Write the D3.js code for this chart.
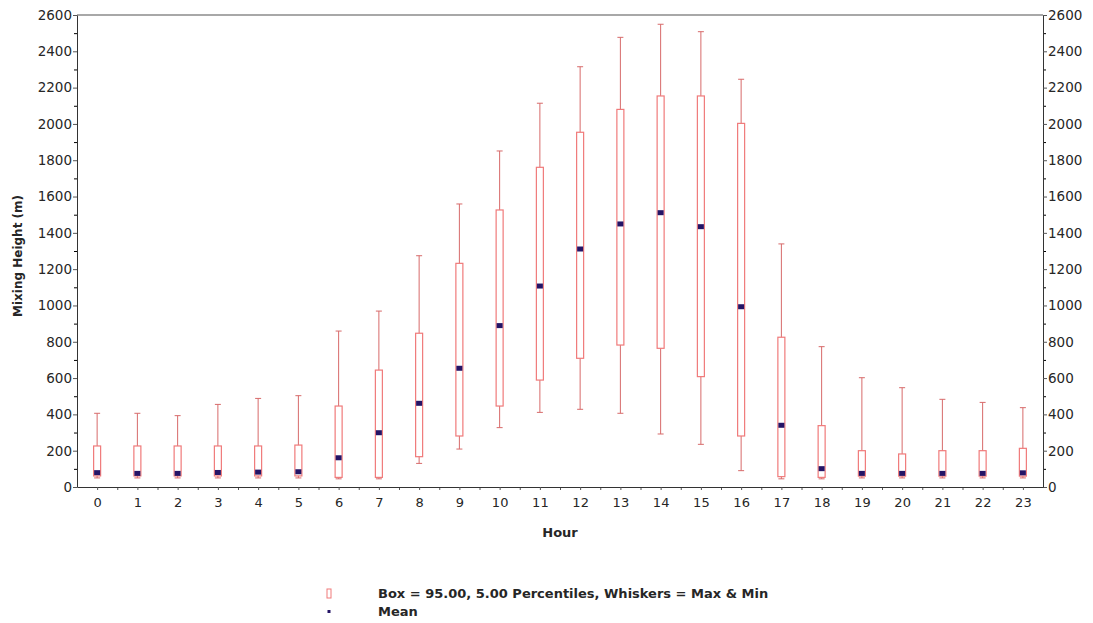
<!DOCTYPE html>
<html>
<head>
<meta charset="UTF-8">
<title>Mixing Height by Hour</title>
<style>
  body { margin: 0; background: #fff; }
  svg text { font-family: "DejaVu Sans", Verdana, sans-serif; }
</style>
</head>
<body>
<svg width="1093" height="623"></svg>
<script src="https://cdn.jsdelivr.net/npm/d3@7"></script>
<script>
// values (metres)
const hours = [0,1,2,3,4,5,6,7,8,9,10,11,12,13,14,15,16,17,18,19,20,21,22,23];
const maxV  = [406,406,393,455,488,503,859,969,1274,1559,1851,2114,2315,2477,2549,2508,2246,1339,773,602,547,483,466,437];
const p95   = [226,226,226,226,226,231,446,644,847,1232,1526,1761,1954,2080,2154,2154,2003,825,338,200,182,200,200,213];
const p5    = [61,61,61,61,61,61,53,53,167,281,446,589,709,782,764,608,281,57,53,60,60,60,60,60];
const minV  = [50,50,50,50,50,50,45,45,130,209,327,411,428,406,292,235,90,45,45,50,50,50,50,50];
const meanV = [79,75,75,80,82,84,161,299,461,654,889,1107,1311,1449,1511,1434,993,340,101,75,75,75,75,78];
const yTicks = [0,200,400,600,800,1000,1200,1400,1600,1800,2000,2200,2400,2600];

const svg = d3.select("svg");
const mLeft = 77, mRight = 1043, mTop = 15, mBottom = 487;

const x = d3.scaleLinear().domain([-0.5, 23.5]).range([mLeft, mRight]);
const y = d3.scaleLinear().domain([0, 2600]).range([mBottom, mTop]);

const boxColor = "#f07a7a", whiskColor = "#d76a6a", meanColor = "#241466";
const txt = "#262626";

// frame top
svg.append("line")
  .attr("x1", mLeft).attr("x2", mRight)
  .attr("y1", mTop).attr("y2", mTop)
  .attr("stroke", "#a8a8a8").attr("stroke-width", 2);

// y axes, minor ticks every 100
const minorY = d3.range(100, 2600, 200);
svg.append("g").attr("transform", `translate(${mLeft},0)`)
  .call(d3.axisLeft(y).tickValues(minorY).tickSize(3).tickFormat(""))
  .call(g => g.select(".domain").remove());
svg.append("g").attr("transform", `translate(${mRight},0)`)
  .call(d3.axisRight(y).tickValues(minorY).tickSize(3).tickFormat(""))
  .call(g => g.select(".domain").remove());

const yl = svg.append("g").attr("transform", `translate(${mLeft},0)`)
  .call(d3.axisLeft(y).tickValues(yTicks).tickFormat(d3.format("d")).tickSize(4).tickSizeOuter(0).tickPadding(1));
const yr = svg.append("g").attr("transform", `translate(${mRight},0)`)
  .call(d3.axisRight(y).tickValues(yTicks).tickFormat(d3.format("d")).tickSize(4).tickSizeOuter(0).tickPadding(1));
[yl, yr].forEach(g => {
  g.selectAll("text").attr("font-size", 13.5).attr("fill", txt);
  g.select(".domain").attr("stroke", "#333");
  g.selectAll(".tick line").attr("stroke", "#555");
});

// x axis: hours plus half-hour minor ticks
svg.append("g").attr("transform", `translate(0,${mBottom})`)
  .call(d3.axisBottom(x).tickValues(hours.slice(0, 23).map(h => h + 0.5)).tickSize(3).tickFormat(""))
  .call(g => g.select(".domain").remove())
  .selectAll("line").attr("stroke", "#555");
const xa = svg.append("g").attr("transform", `translate(0,${mBottom})`)
  .call(d3.axisBottom(x).tickValues(hours).tickSize(3).tickSizeOuter(0).tickPadding(8));
xa.select(".domain").attr("stroke", "#333");
xa.selectAll(".tick line").attr("stroke", "#555");
xa.selectAll("text").attr("font-size", 13).attr("fill", txt);

// boxes
const rows = hours.map((h, i) => ({h, max: maxV[i], q95: p95[i], q5: p5[i], min: minV[i], mean: meanV[i]}));
const bw = 7, cw = 6;
const b = svg.append("g").selectAll("g.box").data(rows).join("g").attr("class", "box");

b.append("line").attr("x1", d => x(d.h)).attr("x2", d => x(d.h))
  .attr("y1", d => y(d.max)).attr("y2", d => y(d.q95))
  .attr("stroke", whiskColor);
b.append("line").attr("x1", d => x(d.h)).attr("x2", d => x(d.h))
  .attr("y1", d => y(d.q5)).attr("y2", d => y(d.min))
  .attr("stroke", whiskColor);
b.append("line").attr("x1", d => x(d.h) - cw / 2).attr("x2", d => x(d.h) + cw / 2)
  .attr("y1", d => y(d.max)).attr("y2", d => y(d.max))
  .attr("stroke", whiskColor);
b.append("line").attr("x1", d => x(d.h) - cw / 2).attr("x2", d => x(d.h) + cw / 2)
  .attr("y1", d => y(d.min)).attr("y2", d => y(d.min))
  .attr("stroke", whiskColor);
b.append("rect")
  .attr("x", d => x(d.h) - bw / 2).attr("width", bw)
  .attr("y", d => y(d.q95)).attr("height", d => y(d.q5) - y(d.q95))
  .attr("fill", "none").attr("stroke", boxColor).attr("stroke-width", 1.2);
b.append("rect")
  .attr("x", d => x(d.h) - 3).attr("width", 6)
  .attr("y", d => y(d.mean) - 2.5).attr("height", 5)
  .attr("fill", meanColor);

// axis titles
svg.append("text")
  .attr("transform", "translate(22,256) rotate(-90)")
  .attr("text-anchor", "middle")
  .attr("font-size", 12).attr("font-weight", "bold").attr("fill", txt)
  .text("Mixing Height (m)");
svg.append("text")
  .attr("x", (mLeft + mRight) / 2).attr("y", 537)
  .attr("text-anchor", "middle")
  .attr("font-size", 13).attr("font-weight", "bold").attr("fill", txt)
  .text("Hour");

// legend
const lg = svg.append("g").attr("transform", "translate(329,0)");
lg.append("rect").attr("x", -2).attr("y", 589).attr("width", 4).attr("height", 9)
  .attr("fill", "none").attr("stroke", boxColor);
lg.append("rect").attr("x", -1.5).attr("y", 610).attr("width", 3).attr("height", 3)
  .attr("fill", meanColor);
lg.append("text").attr("x", 49).attr("y", 598)
  .attr("font-size", 13).attr("font-weight", "bold").attr("fill", txt)
  .text("Box = 95.00, 5.00 Percentiles, Whiskers = Max & Min");
lg.append("text").attr("x", 49).attr("y", 616)
  .attr("font-size", 13).attr("font-weight", "bold").attr("fill", txt)
  .text("Mean");
</script>
</body>
</html>
